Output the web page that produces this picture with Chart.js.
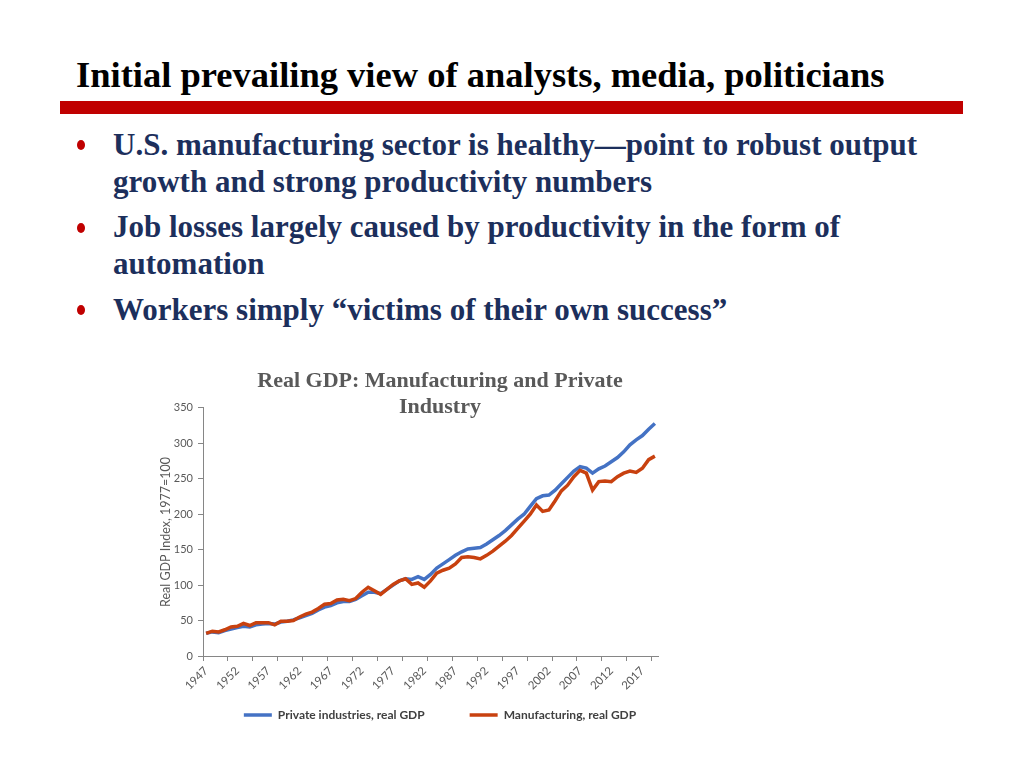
<!DOCTYPE html>
<html lang="en">
<head>
<meta charset="UTF-8">
<title>Initial prevailing view of analysts, media, politicians</title>
<script src="https://cdn.jsdelivr.net/npm/chart.js"></script>
<style>
    body {
        margin: 0;
        background: #fff;
        font-family: 'Liberation Serif', 'DejaVu Serif', serif;
    }

    .slide {
        position: relative;
        width: 1024px;
        height: 768px;
        overflow: hidden;
    }

    .heading {
        position: absolute;
        left: 76px;
        top: 57px;
        font-size: 36.5px;
        line-height: 36.5px;
        font-weight: bold;
        color: #000;
        white-space: nowrap;
    }

    .rule {
        position: absolute;
        left: 60px;
        top: 101px;
        width: 903px;
        height: 13px;
        background: #c00000;
    }

    .line {
        position: absolute;
        left: 113px;
        font-size: 31px;
        line-height: 31px;
        font-weight: bold;
        color: #1c2f5c;
        white-space: nowrap;
    }

    .dot {
        position: absolute;
        left: 77px;
        width: 8px;
        height: 10px;
        border-radius: 50%;
        background: #c00000;
    }

    .chart-box {
        position: absolute;
        left: 150px;
        top: 368px;
        width: 580px;
        height: 370px;
    }
</style>
</head>

<body>
<div class="slide">
    <div class="heading">Initial prevailing view of analysts, media, politicians</div>
    <div class="rule"></div>

    <div class="dot" style="top:140px"></div>
    <div class="line" style="top:129px">U.S. manufacturing sector is healthy—point to robust output</div>
    <div class="line" style="top:166px">growth and strong productivity numbers</div>

    <div class="dot" style="top:223px"></div>
    <div class="line" style="top:211px">Job losses largely caused by productivity in the form of</div>
    <div class="line" style="top:248px">automation</div>

    <div class="dot" style="top:305px"></div>
    <div class="line" style="top:294px">Workers simply “victims of their own success”</div>

    <div class="chart-box"><canvas id="gdpChart"></canvas></div>
</div>

<script>
    const years = [
        1947, 1948, 1949, 1950, 1951, 1952, 1953, 1954, 1955, 1956,
        1957, 1958, 1959, 1960, 1961, 1962, 1963, 1964, 1965, 1966,
        1967, 1968, 1969, 1970, 1971, 1972, 1973, 1974, 1975, 1976,
        1977, 1978, 1979, 1980, 1981, 1982, 1983, 1984, 1985, 1986,
        1987, 1988, 1989, 1990, 1991, 1992, 1993, 1994, 1995, 1996,
        1997, 1998, 1999, 2000, 2001, 2002, 2003, 2004, 2005, 2006,
        2007, 2008, 2009, 2010, 2011, 2012, 2013, 2014, 2015, 2016,
        2017, 2018, 2019
    ];

    const labelYears = [1947, 1952, 1957, 1962, 1967, 1972, 1977, 1982, 1987, 1992, 1997, 2002, 2007, 2012, 2017];

    // index, 1977 = 100
    const privateGdp = [
        32, 34, 33, 36, 38, 40, 42, 41, 44, 45,
        46, 45, 48, 49, 51, 54, 57, 60, 65, 69,
        71, 75, 77, 77, 80, 85, 90, 90, 88, 94,
        100, 106, 109, 108, 112, 108, 115, 124, 130, 136,
        142, 147, 151, 152, 153, 158, 164, 170, 177, 185,
        193, 200, 211, 222, 226, 227, 234, 243, 252, 261,
        267, 265, 258, 264, 268, 274, 280, 288, 298, 305,
        311, 320, 328
    ];

    const manufacturingGdp = [
        32, 35, 34, 37, 41, 42, 46, 43, 47, 47,
        47, 44, 49, 49, 50, 55, 59, 62, 67, 73,
        74, 79, 80, 78, 81, 90, 97, 92, 87, 94,
        101, 106, 109, 101, 103, 97, 106, 117, 121, 124,
        130, 139, 140, 139, 137, 142, 148, 155, 162, 170,
        180, 190, 200, 213, 204, 206, 219, 233, 241, 253,
        262, 258, 234, 246, 247, 246, 253, 258, 261, 259,
        265, 277, 282
    ];

    const axisGrey = '#868686';
    const textGrey = '#595959';

    new Chart(document.getElementById('gdpChart'), {
        type: 'line',
        data: {
            labels: years,
            datasets: [
                {
                    label: 'Private industries, real GDP',
                    data: privateGdp,
                    borderColor: '#4472c4',
                    backgroundColor: '#4472c4',
                    borderWidth: 3.5,
                    pointRadius: 0,
                    tension: 0,
                    order: 1
                },
                {
                    label: 'Manufacturing, real GDP',
                    data: manufacturingGdp,
                    borderColor: '#c8410f',
                    backgroundColor: '#c8410f',
                    borderWidth: 3.5,
                    pointRadius: 0,
                    tension: 0,
                    order: 0   // manufacturing line sits on top
                }
            ]
        },
        options: {
            responsive: true,
            maintainAspectRatio: false,
            animation: false,
            layout: { padding: { left: 4, right: 4, top: 0, bottom: 7 } },
            plugins: {
                title: {
                    display: true,
                    text: ['Real GDP: Manufacturing and Private', 'Industry'],
                    color: textGrey,
                    font: { family: 'Liberation Serif', size: 22, weight: 'bold', lineHeight: 1.18 },
                    padding: { top: 0, bottom: -12 }
                },
                legend: {
                    position: 'bottom',
                    // empty title with negative padding cancels most of the
                    // vertical part of labels.padding (wanted only for the gap between items)
                    title: {
                        display: true,
                        text: '',
                        font: { size: 10, lineHeight: 1 },
                        padding: { top: -42, bottom: 0 }
                    },
                    labels: {
                        usePointStyle: true,
                        pointStyle: 'line',
                        pointStyleWidth: 28,
                        padding: 45,
                        color: '#404040',
                        font: { family: 'Lato', size: 12, weight: 'bold' },
                        sort: (a, b) => a.datasetIndex - b.datasetIndex
                    }
                },
                tooltip: { enabled: false }
            },
            scales: {
                x: {
                    offset: true,
                    grid: {
                        offset: true,
                        drawOnChartArea: false,
                        tickLength: 5,
                        color: ctx => ctx.index % 4 === 0 ? axisGrey : 'rgba(0,0,0,0)'
                    },
                    border: { color: axisGrey },
                    ticks: {
                        autoSkip: false,
                        minRotation: 45,
                        maxRotation: 45,
                        color: textGrey,
                        font: { family: 'Lato', size: 11.5 },
                        callback: function (value, index) {
                            return labelYears.includes(years[index]) ? String(years[index]) : '';
                        }
                    },
                    afterFit: function (scale) { scale.height = 40; }
                },
                y: {
                    min: 0,
                    max: 350,
                    ticks: {
                        stepSize: 50,
                        padding: 5,
                        color: textGrey,
                        font: { family: 'Lato', size: 11 }
                    },
                    grid: { drawOnChartArea: false, tickLength: 5, color: axisGrey },
                    border: { color: axisGrey },
                    title: {
                        display: true,
                        text: 'Real GDP Index, 1977=100',
                        color: textGrey,
                        font: { family: 'Lato', size: 12.5 }
                    },
                    afterFit: function (scale) { scale.width = 49; }
                },
                // empty space on the right so the title and legend centre like the original
                spacer: {
                    axis: 'y',
                    position: 'right',
                    grid: { display: false },
                    border: { display: false },
                    ticks: { display: false },
                    afterFit: function (scale) { scale.width = 68; }
                }
            }
        }
    });
</script>
</body>
</html>
